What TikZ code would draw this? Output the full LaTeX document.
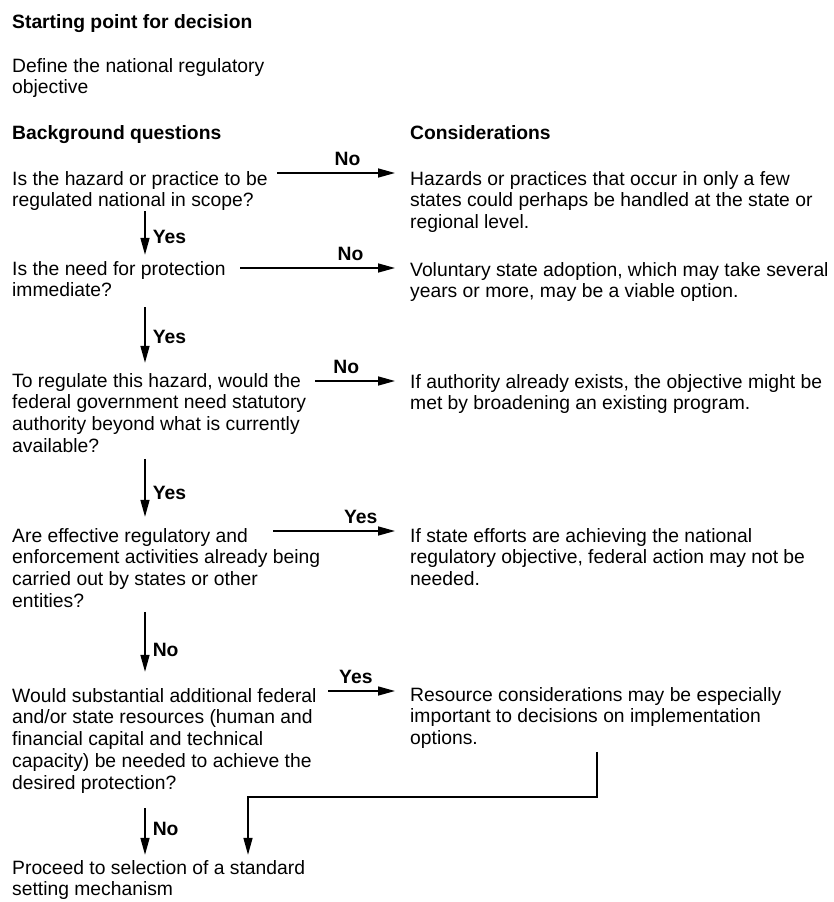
\documentclass[tikz,border=0pt]{standalone}
\usepackage{fontspec}
\setmainfont{Liberation Sans}
\usepackage{tikz}
\usetikzlibrary{arrows.meta,positioning}

\begin{document}
\begin{tikzpicture}[x=1pt,y=-1pt,
  txt/.style={anchor=base west,inner sep=0pt,align=left,font=\fontsize{19.3}{21.8}\selectfont},
  hd/.style={txt,font=\fontsize{19.3}{21.8}\selectfont\bfseries},
  lbl/.style={inner sep=0pt,font=\fontsize{19.3}{21.8}\selectfont\bfseries},
  hlbl/.style={lbl,above=7pt},
  vlbl/.style={lbl,anchor=west,xshift=7pt,pos=.53},
  arr/.style={-{Triangle[length=17pt,width=9pt]},line width=1.5pt}]
  \useasboundingbox (0,0) rectangle (834,902);
  % multi-line nodes sit on the baseline of their last line
  \node[hd] (start) at (12,28) {Starting point for decision};
  \node[txt] (obj) at (12,93.8) {Define the national regulatory\\objective};
  \node[hd] (bq) at (12,139) {Background questions};
  \node[hd] (cons) at (410,139) {Considerations};
  \node[txt] (q1) at (12,206.8) {Is the hazard or practice to be\\regulated national in scope?};
  \node[txt] (c1) at (410,228.6) {Hazards or practices that occur in only a few\\states could perhaps be handled at the state or\\regional level.};
  \node[txt] (q2) at (12,296.8) {Is the need for protection\\immediate?};
  \node[txt] (c2) at (410,297.8) {Voluntary state adoption, which may take several\\years or more, may be a viable option.};
  \node[txt] (q3) at (12,452.4) {To regulate this hazard, would the\\federal government need statutory\\authority beyond what is currently\\available?};
  \node[txt] (c3) at (410,409.8) {If authority already exists, the objective might be\\met by broadening an existing program.};
  \node[txt] (q4) at (12,607.4) {Are effective regulatory and\\enforcement activities already being\\carried out by states or other\\entities?};
  \node[txt] (c4) at (410,585.6) {If state efforts are achieving the national\\regulatory objective, federal action may not be\\needed.};
  \node[txt] (q5) at (12,789.2) {Would substantial additional federal\\and/or state resources (human and\\financial capital and technical\\capacity) be needed to achieve the\\desired protection?};
  \node[txt] (c5) at (410,744.6) {Resource considerations may be especially\\important to decisions on implementation\\options.};
  \node[txt] (fin) at (12,895.8) {Proceed to selection of a standard\\setting mechanism};
  \coordinate (q1r) at (277,173);
  \coordinate (q2r) at (240,268);
  \coordinate (q3r) at (315,381);
  \coordinate (q4r) at (273,531);
  \coordinate (q5r) at (328,691);
  \coordinate (dx) at (145,0);
  \coordinate (rx) at (597,0);
  \coordinate (lx) at (248,0);
  \coordinate (jy) at (0,797);
  \path[arr,shorten >=15pt]
    (q1r) edge node[hlbl,pos=.53] {No} (q1r -| c1.west)
    (q2r) edge node[hlbl,pos=.65] {No} (q2r -| c2.west)
    (q3r) edge node[hlbl,pos=.33] {No} (q3r -| c3.west)
    (q4r) edge node[hlbl,pos=.64] {Yes} (q4r -| c4.west)
    (q5r) edge node[hlbl,pos=.34] {Yes} (q5r -| c5.west);
  \path[arr]
    (q1.south -| dx) edge[shorten >=6pt] node[vlbl] {Yes} (q2.north -| dx)
    (q2.south -| dx) edge[shorten <=10pt,shorten >=10pt] node[vlbl] {Yes} (q3.north -| dx)
    (q3.south -| dx) edge[shorten <=6pt,shorten >=11pt] node[vlbl] {Yes} (q4.north -| dx)
    (q4.south -| dx) edge[shorten <=4pt,shorten >=16pt] node[vlbl] {No} (q5.north -| dx)
    (q5.south -| dx) edge[shorten <=15pt,shorten >=5pt] node[vlbl] {No} (fin.north -| dx);
  \draw[arr,shorten <=3pt,shorten >=5pt] (c5.south -| rx) -- (rx |- jy) -- (lx |- jy) -- (fin.north -| lx);
\end{tikzpicture}
\end{document}
